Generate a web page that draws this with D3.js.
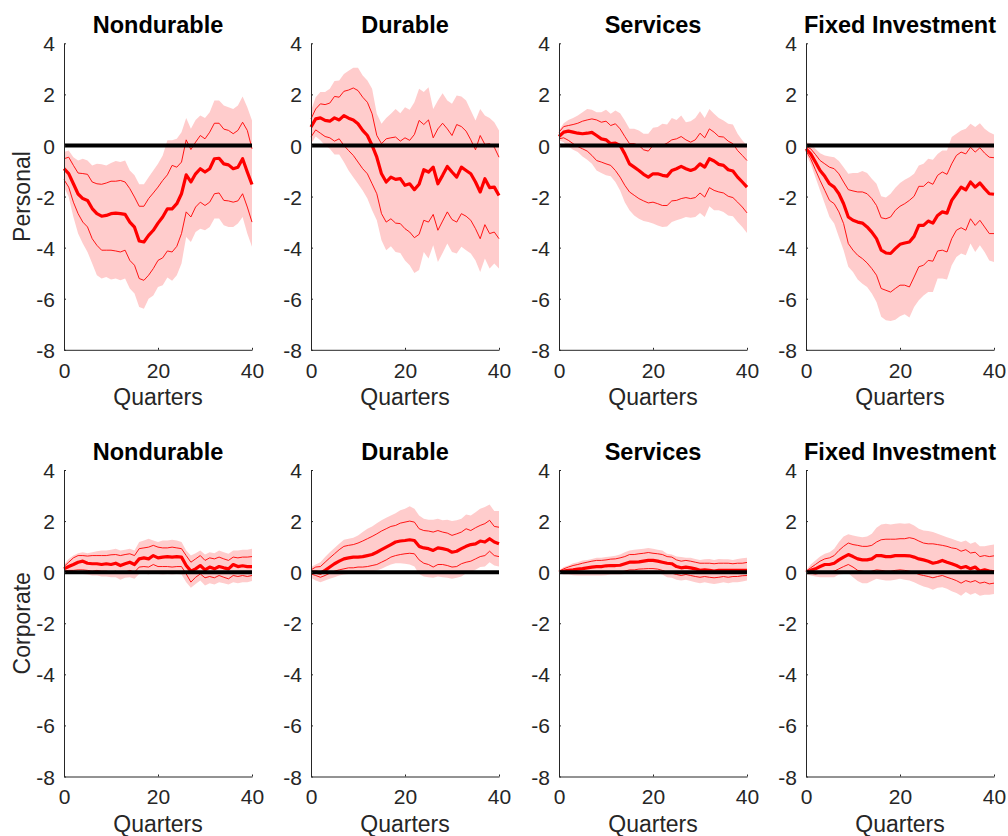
<!DOCTYPE html>
<html>
<head>
<meta charset="utf-8">
<script src="https://cdn.jsdelivr.net/npm/d3@7"></script>
<style>
  html, body { margin: 0; padding: 0; background: #fff; }
  svg { display: block; }
  text { font-family: "Liberation Sans", Arial, Helvetica, sans-serif; }
</style>
</head>
<body>
<svg id="chart" width="1008" height="836"></svg>
<script>
// Impulse responses over 40 quarters: median, 68% and 90% bands
const quarters = d3.range(0, 41);
const categories = ["Nondurable", "Durable", "Services", "Fixed Investment"];
const rowLabels = ["Personal", "Corporate"];
const yTicks = [-8, -6, -4, -2, 0, 2, 4];
const xTicks = [0, 20, 40];

// Personal — Nondurable
const pNondMed  = [-0.91,-1.1,-1.5,-1.9,-2.08,-2.15,-2.47,-2.67,-2.77,-2.74,-2.67,-2.65,-2.67,-2.7,-3.0,-3.2,-3.74,-3.78,-3.52,-3.32,-3.04,-2.8,-2.48,-2.48,-2.28,-1.89,-1.15,-1.43,-1.11,-0.91,-1.04,-0.91,-0.52,-0.5,-0.72,-0.76,-0.91,-0.85,-0.52,-1.04,-1.53];
const pNondHi68 = [-0.52,-0.46,-0.78,-1.08,-1.1,-1.13,-1.43,-1.5,-1.52,-1.47,-1.4,-1.4,-1.37,-1.43,-1.69,-2.02,-2.38,-2.38,-2.08,-1.86,-1.63,-1.37,-1.15,-0.78,-0.85,-0.65,0.22,-0.16,0.13,0.39,0.26,0.52,0.87,0.87,0.64,0.59,0.46,0.59,0.91,0.59,-0.13];
const pNondLo68 = [-1.34,-1.63,-2.22,-2.67,-3.0,-3.19,-3.65,-3.91,-4.1,-4.1,-4.1,-4.13,-4.17,-4.1,-4.5,-4.69,-5.21,-5.28,-5.08,-4.82,-4.5,-4.4,-4.13,-4.17,-3.95,-3.45,-2.6,-2.8,-2.41,-2.22,-2.35,-2.22,-1.89,-1.86,-2.15,-2.17,-2.22,-2.17,-1.89,-2.41,-3.0];
const pNondHi90 = [-0.26,-0.2,-0.46,-0.59,-0.52,-0.59,-0.78,-0.72,-0.74,-0.78,-0.69,-0.61,-0.65,-0.59,-0.98,-1.17,-1.52,-1.52,-1.24,-0.98,-0.72,-0.39,0.2,0.2,0.26,0.52,1.08,0.65,1.0,1.17,1.08,1.3,1.76,1.76,1.56,1.5,1.43,1.56,1.92,1.5,0.98];
const pNondLo90 = [-1.63,-2.02,-2.8,-3.45,-3.84,-4.17,-4.62,-5.08,-5.21,-5.15,-5.25,-5.21,-5.28,-5.21,-5.6,-5.8,-6.32,-6.39,-6.0,-5.87,-5.54,-5.47,-5.17,-5.3,-5.08,-4.62,-3.58,-3.78,-3.39,-3.26,-3.32,-3.19,-2.86,-2.86,-3.12,-3.19,-3.19,-3.06,-2.8,-3.45,-3.97];

// Personal — Durable
const pDurMed  = [0.72,1.04,1.08,0.98,0.95,1.08,1.0,1.17,1.07,1.0,0.85,0.59,0.39,0.0,-0.46,-1.11,-1.43,-1.24,-1.33,-1.3,-1.56,-1.5,-1.73,-1.52,-0.95,-1.04,-0.85,-1.5,-1.17,-0.82,-1.04,-1.24,-0.85,-0.98,-1.11,-1.43,-1.82,-1.3,-1.65,-1.63,-1.96];
const pDurHi68 = [1.04,1.43,1.63,1.6,1.66,1.92,1.89,2.12,2.17,2.25,2.15,1.89,1.69,1.24,0.39,0.07,0.26,0.3,0.33,0.17,0.3,0.2,0.43,0.98,0.82,1.0,0.3,0.65,0.87,0.65,0.39,0.82,0.74,0.56,0.22,-0.17,0.39,0.04,0.07,-0.07,-0.46];
const pDurLo68 = [0.33,0.61,0.48,0.35,0.3,0.17,0.26,0.0,-0.2,-0.39,-0.65,-0.91,-1.11,-1.5,-1.89,-2.67,-3.0,-2.87,-3.04,-3.06,-3.26,-3.39,-3.61,-3.48,-2.93,-3.0,-2.7,-3.32,-2.96,-2.6,-2.9,-3.0,-2.67,-2.77,-2.93,-3.26,-3.65,-3.1,-3.45,-3.39,-3.65];
const pDurHi90 = [1.37,1.89,2.09,2.09,2.22,2.52,2.54,2.8,2.93,3.04,3.04,2.74,2.54,2.22,1.24,0.85,1.08,1.24,1.43,1.26,1.5,1.4,1.69,2.22,2.09,2.28,1.43,1.76,2.04,1.76,1.63,1.96,1.92,1.76,1.37,0.98,1.43,1.17,1.08,0.91,0.59];
const pDurLo90 = [0.07,0.35,0.2,0.0,-0.13,-0.35,-0.35,-0.65,-0.98,-1.24,-1.5,-1.76,-2.08,-2.54,-2.93,-3.71,-4.1,-3.95,-4.17,-4.21,-4.5,-4.69,-4.99,-4.88,-4.17,-4.43,-3.91,-4.56,-4.21,-3.84,-4.17,-4.23,-3.97,-4.1,-4.23,-4.5,-4.95,-4.43,-4.82,-4.62,-4.82];

// Personal — Services
const pServMed  = [0.35,0.52,0.56,0.52,0.48,0.46,0.48,0.51,0.39,0.26,0.22,0.07,0.09,0.0,-0.33,-0.72,-0.85,-0.98,-1.13,-1.24,-1.11,-1.11,-1.17,-1.2,-0.98,-0.91,-0.82,-0.91,-0.98,-0.91,-0.72,-0.85,-0.52,-0.61,-0.74,-0.78,-0.95,-1.0,-1.24,-1.43,-1.63];
const pServHi68 = [0.52,0.74,0.78,0.82,0.87,0.95,1.0,1.04,1.0,0.91,0.95,0.78,0.85,0.65,0.35,0.07,0.07,0.0,-0.17,-0.22,0.0,0.04,0.0,0.09,0.22,0.26,0.35,0.22,0.13,0.22,0.48,0.3,0.65,0.52,0.35,0.33,0.17,0.07,-0.2,-0.39,-0.59];
const pServLo68 = [0.26,0.3,0.2,0.07,-0.04,-0.13,-0.22,-0.39,-0.59,-0.65,-0.72,-0.78,-0.98,-1.24,-1.56,-1.82,-1.95,-2.08,-2.17,-2.25,-2.22,-2.28,-2.35,-2.35,-2.17,-2.15,-2.08,-2.04,-2.08,-2.04,-1.86,-2.02,-1.65,-1.76,-1.82,-1.86,-1.99,-2.04,-2.22,-2.41,-2.64];
const pServHi90 = [0.59,0.87,1.0,1.08,1.17,1.3,1.43,1.4,1.3,1.3,1.4,1.24,1.37,1.26,0.98,0.65,0.65,0.59,0.46,0.46,0.69,0.72,0.85,0.82,1.08,1.0,1.17,0.91,0.95,1.08,1.34,1.08,1.43,1.24,1.08,0.98,0.85,0.82,0.46,0.2,0.0];
const pServLo90 = [0.2,0.13,-0.04,-0.17,-0.26,-0.43,-0.56,-0.72,-0.98,-1.08,-1.17,-1.21,-1.43,-1.76,-2.22,-2.54,-2.74,-2.87,-2.96,-3.0,-3.06,-3.13,-3.19,-3.17,-3.0,-2.93,-2.87,-2.8,-2.83,-2.8,-2.64,-2.8,-2.38,-2.54,-2.54,-2.6,-2.74,-2.77,-3.0,-3.19,-3.43];

// Personal — Fixed Investment
const pInvMed  = [-0.13,-0.33,-0.65,-0.98,-1.21,-1.5,-1.63,-1.89,-2.28,-2.8,-2.93,-3.0,-3.04,-3.19,-3.39,-3.65,-4.1,-4.21,-4.23,-4.04,-3.87,-3.82,-3.78,-3.56,-3.13,-3.13,-2.96,-3.04,-2.74,-2.6,-2.65,-2.15,-1.89,-1.63,-1.74,-1.43,-1.63,-1.47,-1.69,-1.89,-1.91];
const pInvHi68 = [-0.04,-0.13,-0.35,-0.59,-0.72,-0.85,-0.91,-1.11,-1.43,-1.73,-1.78,-1.82,-1.82,-1.89,-2.08,-2.35,-2.83,-2.87,-2.8,-2.54,-2.38,-2.28,-2.15,-1.99,-1.6,-1.6,-1.43,-1.52,-1.17,-1.04,-1.13,-0.72,-0.39,-0.26,-0.33,-0.07,-0.26,-0.09,-0.3,-0.46,-0.48];
const pInvLo68 = [-0.22,-0.52,-0.95,-1.37,-1.76,-2.15,-2.28,-2.6,-3.06,-3.84,-4.1,-4.3,-4.43,-4.6,-4.82,-5.08,-5.6,-5.67,-5.74,-5.6,-5.47,-5.47,-5.54,-5.15,-4.75,-4.69,-4.5,-4.53,-4.13,-4.1,-4.17,-3.65,-3.32,-3.22,-3.32,-2.87,-3.13,-2.93,-3.19,-3.45,-3.45];
const pInvHi90 = [0.13,0.09,-0.13,-0.3,-0.39,-0.43,-0.46,-0.61,-0.85,-1.11,-1.08,-1.08,-1.0,-1.08,-1.3,-1.5,-1.99,-2.04,-1.89,-1.66,-1.47,-1.34,-1.24,-1.11,-0.78,-0.72,-0.52,-0.56,-0.33,-0.2,-0.2,0.33,0.46,0.59,0.65,0.85,0.72,0.87,0.65,0.52,0.43];
const pInvLo90 = [-0.35,-0.72,-1.24,-1.76,-2.28,-2.8,-3.06,-3.58,-4.1,-4.75,-4.95,-5.25,-5.41,-5.54,-5.8,-6.13,-6.71,-6.84,-6.87,-6.82,-6.69,-6.61,-6.74,-6.32,-6.06,-5.87,-5.74,-5.74,-5.21,-5.21,-5.25,-4.69,-4.37,-4.23,-4.3,-3.84,-4.17,-3.91,-4.17,-4.5,-4.56];

// Corporate — Nondurable
const cNondMed  = [0.13,0.22,0.3,0.39,0.43,0.35,0.33,0.33,0.3,0.33,0.3,0.35,0.26,0.33,0.39,0.3,0.52,0.56,0.52,0.65,0.56,0.59,0.61,0.59,0.61,0.59,0.26,0.04,0.13,0.26,0.09,0.2,0.13,0.22,0.17,0.13,0.3,0.22,0.25,0.22,0.22];
const cNondHi68 = [0.22,0.39,0.56,0.65,0.65,0.63,0.65,0.65,0.65,0.65,0.68,0.69,0.65,0.69,0.72,0.65,0.92,0.95,0.98,1.05,0.98,0.95,0.95,0.98,0.95,0.92,0.65,0.39,0.52,0.65,0.46,0.56,0.52,0.59,0.52,0.46,0.59,0.56,0.59,0.59,0.61];
const cNondLo68 = [0.04,0.07,0.07,0.09,0.09,0.07,0.04,0.07,0.04,0.04,0.0,0.04,-0.04,0.0,0.07,0.0,0.2,0.22,0.2,0.3,0.22,0.22,0.22,0.2,0.22,0.22,-0.07,-0.39,-0.2,-0.07,-0.22,-0.17,-0.22,-0.13,-0.2,-0.26,-0.13,-0.17,-0.13,-0.17,-0.13];
const cNondHi90 = [0.3,0.52,0.65,0.74,0.78,0.74,0.78,0.82,0.85,0.85,0.88,0.92,0.85,0.88,0.92,0.85,1.18,1.24,1.31,1.24,1.18,1.24,1.24,1.27,1.24,1.18,0.85,0.65,0.74,0.85,0.69,0.78,0.74,0.85,0.78,0.72,0.85,0.85,0.88,0.88,0.92];
const cNondLo90 = [-0.04,-0.07,-0.07,-0.04,-0.07,-0.09,-0.13,-0.13,-0.17,-0.17,-0.2,-0.2,-0.3,-0.22,-0.2,-0.26,-0.07,-0.04,-0.09,0.0,-0.07,-0.09,-0.07,-0.09,-0.07,-0.09,-0.39,-0.61,-0.46,-0.33,-0.52,-0.43,-0.48,-0.39,-0.43,-0.48,-0.39,-0.43,-0.39,-0.39,-0.35];

// Corporate — Durable
const cDurMed  = [0.0,0.0,-0.04,0.07,0.2,0.33,0.43,0.52,0.56,0.59,0.59,0.61,0.65,0.69,0.78,0.88,0.98,1.08,1.18,1.22,1.24,1.27,1.24,1.01,0.95,0.92,0.85,0.95,0.92,0.88,0.78,0.82,0.92,1.01,1.08,1.11,1.22,1.18,1.31,1.18,1.11];
const cDurHi68 = [0.09,0.2,0.22,0.39,0.56,0.72,0.88,1.01,1.05,1.08,1.14,1.22,1.31,1.4,1.5,1.61,1.7,1.79,1.83,1.92,1.96,2.0,1.96,1.7,1.63,1.61,1.57,1.63,1.57,1.53,1.44,1.5,1.57,1.7,1.63,1.74,1.83,1.9,2.03,1.79,1.76];
const cDurLo68 = [-0.07,-0.13,-0.2,-0.13,-0.04,0.04,0.09,0.13,0.17,0.17,0.2,0.2,0.22,0.26,0.3,0.39,0.48,0.59,0.65,0.69,0.72,0.74,0.72,0.48,0.35,0.3,0.2,0.3,0.3,0.26,0.2,0.22,0.33,0.39,0.43,0.52,0.61,0.65,0.82,0.65,0.61];
const cDurHi90 = [0.2,0.3,0.39,0.59,0.78,0.95,1.11,1.27,1.31,1.35,1.44,1.57,1.7,1.79,1.92,2.03,2.13,2.22,2.31,2.42,2.48,2.58,2.48,2.22,2.09,2.05,2.05,2.09,2.03,2.05,2.0,2.03,2.09,2.26,2.22,2.35,2.48,2.55,2.65,2.39,2.39];
const cDurLo90 = [-0.22,-0.33,-0.39,-0.33,-0.26,-0.2,-0.13,-0.09,-0.07,-0.07,-0.04,-0.04,0.0,0.04,0.07,0.13,0.22,0.3,0.35,0.35,0.33,0.3,0.22,-0.07,-0.17,-0.2,-0.22,-0.17,-0.2,-0.22,-0.26,-0.22,-0.17,-0.04,0.0,0.09,0.2,0.22,0.39,0.26,0.22];

// Corporate — Services
const cServMed  = [0.0,0.04,0.07,0.09,0.12,0.14,0.17,0.2,0.22,0.22,0.25,0.26,0.26,0.27,0.33,0.39,0.39,0.4,0.43,0.46,0.46,0.43,0.39,0.35,0.33,0.22,0.17,0.2,0.17,0.13,0.07,0.09,0.07,0.04,0.07,0.07,0.07,0.07,0.07,0.07,0.07];
const cServHi68 = [0.04,0.13,0.2,0.26,0.3,0.35,0.39,0.43,0.46,0.46,0.48,0.51,0.52,0.56,0.61,0.69,0.69,0.72,0.74,0.77,0.74,0.72,0.69,0.61,0.59,0.48,0.43,0.46,0.43,0.39,0.35,0.35,0.35,0.33,0.35,0.35,0.35,0.33,0.35,0.35,0.38];
const cServLo68 = [0.0,-0.02,-0.02,-0.02,-0.02,-0.02,-0.02,-0.02,-0.02,-0.02,0.0,0.0,0.0,0.0,0.04,0.09,0.09,0.12,0.13,0.14,0.14,0.12,0.07,0.0,-0.04,-0.09,-0.13,-0.09,-0.13,-0.17,-0.2,-0.17,-0.2,-0.22,-0.2,-0.17,-0.2,-0.17,-0.17,-0.14,-0.13];
const cServHi90 = [0.07,0.2,0.26,0.35,0.39,0.46,0.48,0.52,0.56,0.56,0.59,0.61,0.64,0.69,0.78,0.85,0.88,0.9,0.92,0.95,0.92,0.88,0.85,0.72,0.69,0.61,0.59,0.56,0.56,0.52,0.48,0.51,0.52,0.48,0.52,0.51,0.51,0.48,0.52,0.54,0.56];
const cServLo90 = [-0.04,-0.09,-0.09,-0.12,-0.13,-0.13,-0.13,-0.13,-0.13,-0.13,-0.12,-0.09,-0.09,-0.09,-0.07,-0.04,-0.04,-0.01,-0.01,0.0,-0.01,-0.04,-0.09,-0.2,-0.22,-0.3,-0.33,-0.3,-0.35,-0.39,-0.43,-0.39,-0.43,-0.46,-0.43,-0.39,-0.43,-0.39,-0.39,-0.37,-0.33];

// Corporate — Fixed Investment
const cInvMed  = [0.0,0.07,0.13,0.22,0.3,0.3,0.35,0.48,0.59,0.69,0.61,0.52,0.48,0.48,0.52,0.65,0.65,0.61,0.61,0.65,0.65,0.65,0.64,0.59,0.52,0.48,0.43,0.35,0.39,0.46,0.39,0.33,0.26,0.17,0.22,0.13,0.2,0.04,0.09,0.04,0.01];
const cInvHi68 = [0.04,0.17,0.3,0.43,0.52,0.56,0.65,0.85,1.01,1.14,1.08,1.05,1.01,1.01,1.05,1.18,1.27,1.29,1.29,1.29,1.31,1.31,1.35,1.31,1.22,1.14,1.11,1.11,1.08,1.05,1.01,0.95,0.92,0.82,0.88,0.75,0.78,0.61,0.65,0.61,0.64];
const cInvLo68 = [-0.04,-0.04,-0.07,-0.04,0.0,0.0,0.04,0.13,0.22,0.3,0.2,0.07,0.04,0.0,0.04,0.09,0.07,0.04,0.04,0.07,0.09,0.07,0.04,0.0,-0.09,-0.13,-0.17,-0.22,-0.17,-0.13,-0.2,-0.26,-0.33,-0.43,-0.33,-0.39,-0.33,-0.43,-0.39,-0.46,-0.43];
const cInvHi90 = [0.07,0.3,0.46,0.61,0.72,0.78,0.92,1.18,1.4,1.48,1.44,1.4,1.37,1.4,1.5,1.74,1.87,1.9,1.87,1.9,1.92,1.9,1.92,1.83,1.7,1.63,1.61,1.57,1.5,1.44,1.37,1.31,1.24,1.18,1.24,1.11,1.18,1.01,1.01,1.05,1.08];
const cInvLo90 = [-0.07,-0.13,-0.17,-0.2,-0.2,-0.2,-0.2,-0.09,-0.07,-0.04,-0.2,-0.35,-0.43,-0.43,-0.35,-0.26,-0.3,-0.33,-0.33,-0.3,-0.26,-0.3,-0.33,-0.39,-0.48,-0.56,-0.61,-0.69,-0.61,-0.59,-0.65,-0.75,-0.82,-0.92,-0.78,-0.88,-0.82,-0.92,-0.88,-0.88,-0.85];

const panels = [
  { row: 0, col: 0, med: pNondMed, hi68: pNondHi68, lo68: pNondLo68, hi90: pNondHi90, lo90: pNondLo90 },
  { row: 0, col: 1, med: pDurMed,  hi68: pDurHi68,  lo68: pDurLo68,  hi90: pDurHi90,  lo90: pDurLo90 },
  { row: 0, col: 2, med: pServMed, hi68: pServHi68, lo68: pServLo68, hi90: pServHi90, lo90: pServLo90 },
  { row: 0, col: 3, med: pInvMed,  hi68: pInvHi68,  lo68: pInvLo68,  hi90: pInvHi90,  lo90: pInvLo90 },
  { row: 1, col: 0, med: cNondMed, hi68: cNondHi68, lo68: cNondLo68, hi90: cNondHi90, lo90: cNondLo90 },
  { row: 1, col: 1, med: cDurMed,  hi68: cDurHi68,  lo68: cDurLo68,  hi90: cDurHi90,  lo90: cDurLo90 },
  { row: 1, col: 2, med: cServMed, hi68: cServHi68, lo68: cServLo68, hi90: cServHi90, lo90: cServLo90 },
  { row: 1, col: 3, med: cInvMed,  hi68: cInvHi68,  lo68: cInvLo68,  hi90: cInvHi90,  lo90: cInvLo90 }
];

// Layout of the 2 x 4 grid of axes
const colLeft = [64, 311, 559, 806];
const rowTop = [43.3, 470];
const plotW = 188, plotH = 306.5;
const axisColor = "#262626";
const tickFmt = d => String(d);   // plain hyphen-minus, e.g. "-8"

const svg = d3.select("#chart");

panels.forEach(p => {
  const x0 = colLeft[p.col], y0 = rowTop[p.row];
  const g = svg.append("g").attr("transform", `translate(${x0},${y0})`);
  const x = d3.scaleLinear().domain([0, 40]).range([0, plotW]);
  const y = d3.scaleLinear().domain([-8, 4]).range([plotH, 0]);

  // 90% band
  const area = d3.area()
    .x((d, i) => x(quarters[i]))
    .y0((d, i) => y(p.lo90[i]))
    .y1((d, i) => y(p.hi90[i]));
  g.append("path").datum(p.med).attr("d", area).attr("fill", "#ffcccc").attr("stroke", "none");

  const line = arr => d3.line().x((d, i) => x(quarters[i])).y(d => y(d))(arr);

  // 68% band edges
  [p.hi68, p.lo68].forEach(arr => {
    g.append("path").attr("d", line(arr)).attr("fill", "none")
      .attr("stroke", "#ff0000").attr("stroke-width", 0.9).attr("stroke-linejoin", "round");
  });
  // median response
  g.append("path").attr("d", line(p.med)).attr("fill", "none")
    .attr("stroke", "#ff0000").attr("stroke-width", 3.2).attr("stroke-linejoin", "round");

  // zero reference
  g.append("line").attr("x1", x(0)).attr("x2", x(40)).attr("y1", y(0)).attr("y2", y(0))
    .attr("stroke", "#000").attr("stroke-width", 4);

  // Axes (ticks pointing inward)
  const yAxis = g.append("g").call(d3.axisLeft(y).tickValues(yTicks).tickFormat(tickFmt)
    .tickSizeInner(-2).tickSizeOuter(0).tickPadding(9));
  const xAxis = g.append("g").attr("transform", `translate(0,${plotH})`)
    .call(d3.axisBottom(x).tickValues(xTicks).tickFormat(tickFmt)
    .tickSizeInner(-2).tickSizeOuter(0).tickPadding(13));
  [yAxis, xAxis].forEach(a => {
    a.select(".domain").attr("stroke", axisColor).attr("stroke-width", 1);
    a.selectAll(".tick line").attr("stroke", axisColor);
    a.selectAll(".tick text").attr("fill", axisColor).attr("font-size", 21)
      .attr("font-family", "'Liberation Sans', Arial, sans-serif");
  });
  yAxis.selectAll(".tick text").attr("dy", "0.36em");
  xAxis.selectAll(".tick text").attr("dy", "0.71em");

  // x label
  g.append("text").attr("x", plotW / 2).attr("y", plotH + 55).attr("text-anchor", "middle")
    .attr("font-size", 23).attr("fill", axisColor).text("Quarters");

  // title
  g.append("text").attr("x", plotW / 2).attr("y", -10.5).attr("text-anchor", "middle")
    .attr("font-size", 23.5).attr("font-weight", "bold").attr("fill", "#000").text(categories[p.col]);

  // row label
  if (p.col === 0) {
    g.append("text").attr("transform", `translate(${22 - x0},${plotH / 2}) rotate(-90)`)
      .attr("text-anchor", "middle").attr("dominant-baseline", "central")
      .attr("font-size", 23).attr("fill", axisColor).text(rowLabels[p.row]);
  }
});
</script>
</body>
</html>
